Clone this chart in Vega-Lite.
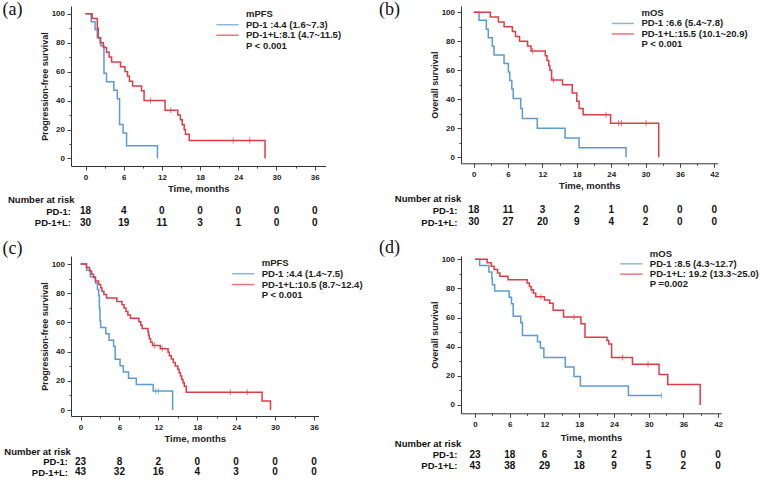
{
  "$schema": "https://vega.github.io/schema/vega-lite/v6.json",
  "padding": {"left": 2, "top": 1, "right": 5, "bottom": 5},
  "background": "white",
  "config": {
    "font": "Liberation Sans",
    "view": {"stroke": null},
    "axis": {"grid": false, "domainColor": "#333", "tickColor": "#444", "labelColor": "#222", "titleColor": "#222", "labelFont": "Liberation Sans", "titleFont": "Liberation Sans", "labelFontSize": 8, "labelFontWeight": "bold", "titleFontWeight": "bold"},
    "legend": {"labelFont": "Liberation Sans"}
  },
  "datasets": {
    "km": [
      {"p":"a","g":"PD-1","t":0,"s":100},{"p":"a","g":"PD-1","t":0.9,"s":94.4},{"p":"a","g":"PD-1","t":1.5,"s":88.9},{"p":"a","g":"PD-1","t":1.85,"s":83.3},{"p":"a","g":"PD-1","t":2.4,"s":77.8},{"p":"a","g":"PD-1","t":2.9,"s":58.8},{"p":"a","g":"PD-1","t":3.3,"s":52.9},{"p":"a","g":"PD-1","t":4.45,"s":47.1},{"p":"a","g":"PD-1","t":5.0,"s":41.2},{"p":"a","g":"PD-1","t":5.35,"s":23.5},{"p":"a","g":"PD-1","t":5.9,"s":17.6},{"p":"a","g":"PD-1","t":6.45,"s":8.8},{"p":"a","g":"PD-1","t":11.3,"s":0},
      {"p":"a","g":"PD-1+L","t":0,"s":100},{"p":"a","g":"PD-1+L","t":1.05,"s":96.7},{"p":"a","g":"PD-1+L","t":1.85,"s":90},{"p":"a","g":"PD-1+L","t":2.0,"s":83.3},{"p":"a","g":"PD-1+L","t":2.3,"s":80},{"p":"a","g":"PD-1+L","t":2.8,"s":76.7},{"p":"a","g":"PD-1+L","t":3.3,"s":73.3},{"p":"a","g":"PD-1+L","t":3.7,"s":70},{"p":"a","g":"PD-1+L","t":4.1,"s":66.7},{"p":"a","g":"PD-1+L","t":5.5,"s":63.3},{"p":"a","g":"PD-1+L","t":6.2,"s":60},{"p":"a","g":"PD-1+L","t":6.6,"s":56.7},{"p":"a","g":"PD-1+L","t":6.9,"s":53.3},{"p":"a","g":"PD-1+L","t":7.4,"s":50},{"p":"a","g":"PD-1+L","t":8.8,"s":46.7},{"p":"a","g":"PD-1+L","t":9.2,"s":40},{"p":"a","g":"PD-1+L","t":12.5,"s":33.3},{"p":"a","g":"PD-1+L","t":14.5,"s":30},{"p":"a","g":"PD-1+L","t":14.9,"s":26.7},{"p":"a","g":"PD-1+L","t":15.2,"s":23.3},{"p":"a","g":"PD-1+L","t":15.5,"s":20},{"p":"a","g":"PD-1+L","t":15.7,"s":16.7},{"p":"a","g":"PD-1+L","t":16.3,"s":12.4},{"p":"a","g":"PD-1+L","t":28.2,"s":0},
      {"p":"b","g":"PD-1","t":0,"s":100},{"p":"b","g":"PD-1","t":0.93,"s":94.4},{"p":"b","g":"PD-1","t":2.2,"s":88.2},{"p":"b","g":"PD-1","t":2.55,"s":82.4},{"p":"b","g":"PD-1","t":3.25,"s":76.5},{"p":"b","g":"PD-1","t":3.55,"s":70.6},{"p":"b","g":"PD-1","t":5.3,"s":64.7},{"p":"b","g":"PD-1","t":6.05,"s":58.8},{"p":"b","g":"PD-1","t":6.3,"s":52.9},{"p":"b","g":"PD-1","t":6.65,"s":47.1},{"p":"b","g":"PD-1","t":6.9,"s":40.5},{"p":"b","g":"PD-1","t":8.2,"s":33.7},{"p":"b","g":"PD-1","t":8.5,"s":26.8},{"p":"b","g":"PD-1","t":11.1,"s":20.1},{"p":"b","g":"PD-1","t":15.95,"s":13.4},{"p":"b","g":"PD-1","t":18.4,"s":6.7},{"p":"b","g":"PD-1","t":26.6,"s":0},
      {"p":"b","g":"PD-1+L","t":0,"s":100},{"p":"b","g":"PD-1+L","t":2.9,"s":96.7},{"p":"b","g":"PD-1+L","t":4.3,"s":93.3},{"p":"b","g":"PD-1+L","t":5.3,"s":90},{"p":"b","g":"PD-1+L","t":6.75,"s":86.7},{"p":"b","g":"PD-1+L","t":7.3,"s":83.3},{"p":"b","g":"PD-1+L","t":8.0,"s":80},{"p":"b","g":"PD-1+L","t":9.4,"s":76.7},{"p":"b","g":"PD-1+L","t":10.0,"s":73.3},{"p":"b","g":"PD-1+L","t":12.5,"s":70},{"p":"b","g":"PD-1+L","t":12.8,"s":66.7},{"p":"b","g":"PD-1+L","t":13.1,"s":63.3},{"p":"b","g":"PD-1+L","t":13.3,"s":60},{"p":"b","g":"PD-1+L","t":13.6,"s":53.3},{"p":"b","g":"PD-1+L","t":15.5,"s":50},{"p":"b","g":"PD-1+L","t":17.2,"s":44.4},{"p":"b","g":"PD-1+L","t":18.0,"s":38.6},{"p":"b","g":"PD-1+L","t":18.4,"s":33.7},{"p":"b","g":"PD-1+L","t":19.1,"s":29.4},{"p":"b","g":"PD-1+L","t":23.9,"s":23.5},{"p":"b","g":"PD-1+L","t":32.3,"s":0},
      {"p":"c","g":"PD-1","t":0,"s":100},{"p":"c","g":"PD-1","t":0.95,"s":95.7},{"p":"c","g":"PD-1","t":1.5,"s":91.3},{"p":"c","g":"PD-1","t":2.3,"s":87},{"p":"c","g":"PD-1","t":2.6,"s":82.6},{"p":"c","g":"PD-1","t":2.8,"s":78.3},{"p":"c","g":"PD-1","t":2.9,"s":69.6},{"p":"c","g":"PD-1","t":3.0,"s":60.9},{"p":"c","g":"PD-1","t":3.1,"s":56.5},{"p":"c","g":"PD-1","t":3.9,"s":52.2},{"p":"c","g":"PD-1","t":4.4,"s":47.8},{"p":"c","g":"PD-1","t":5.1,"s":43.5},{"p":"c","g":"PD-1","t":5.35,"s":34.8},{"p":"c","g":"PD-1","t":6.1,"s":30.4},{"p":"c","g":"PD-1","t":6.6,"s":26.1},{"p":"c","g":"PD-1","t":7.4,"s":21.7},{"p":"c","g":"PD-1","t":8.6,"s":17.4},{"p":"c","g":"PD-1","t":11.2,"s":13},{"p":"c","g":"PD-1","t":14.2,"s":0},
      {"p":"c","g":"PD-1+L","t":0,"s":100},{"p":"c","g":"PD-1+L","t":0.9,"s":97.7},{"p":"c","g":"PD-1+L","t":1.4,"s":95.3},{"p":"c","g":"PD-1+L","t":1.7,"s":93},{"p":"c","g":"PD-1+L","t":2.0,"s":90.7},{"p":"c","g":"PD-1+L","t":2.3,"s":88.4},{"p":"c","g":"PD-1+L","t":2.8,"s":86},{"p":"c","g":"PD-1+L","t":3.1,"s":83.7},{"p":"c","g":"PD-1+L","t":3.3,"s":81.4},{"p":"c","g":"PD-1+L","t":3.6,"s":79.1},{"p":"c","g":"PD-1+L","t":4.0,"s":76.7},{"p":"c","g":"PD-1+L","t":5.6,"s":74.4},{"p":"c","g":"PD-1+L","t":6.4,"s":72.1},{"p":"c","g":"PD-1+L","t":6.7,"s":69.8},{"p":"c","g":"PD-1+L","t":7.0,"s":67.4},{"p":"c","g":"PD-1+L","t":7.3,"s":65.1},{"p":"c","g":"PD-1+L","t":7.7,"s":62.8},{"p":"c","g":"PD-1+L","t":9.0,"s":60.5},{"p":"c","g":"PD-1+L","t":9.3,"s":58.1},{"p":"c","g":"PD-1+L","t":9.5,"s":55.8},{"p":"c","g":"PD-1+L","t":10.4,"s":53.5},{"p":"c","g":"PD-1+L","t":10.5,"s":51.2},{"p":"c","g":"PD-1+L","t":10.6,"s":48.8},{"p":"c","g":"PD-1+L","t":10.8,"s":46.5},{"p":"c","g":"PD-1+L","t":11.1,"s":44.2},{"p":"c","g":"PD-1+L","t":12.3,"s":41.9},{"p":"c","g":"PD-1+L","t":13.5,"s":39.5},{"p":"c","g":"PD-1+L","t":13.7,"s":37.2},{"p":"c","g":"PD-1+L","t":14.0,"s":34.9},{"p":"c","g":"PD-1+L","t":14.3,"s":32.6},{"p":"c","g":"PD-1+L","t":14.6,"s":30.2},{"p":"c","g":"PD-1+L","t":15.0,"s":27.9},{"p":"c","g":"PD-1+L","t":15.2,"s":25.6},{"p":"c","g":"PD-1+L","t":15.4,"s":23.3},{"p":"c","g":"PD-1+L","t":15.6,"s":20.9},{"p":"c","g":"PD-1+L","t":15.8,"s":18.6},{"p":"c","g":"PD-1+L","t":16.0,"s":16.3},{"p":"c","g":"PD-1+L","t":16.3,"s":12.1},{"p":"c","g":"PD-1+L","t":28.0,"s":6.1},{"p":"c","g":"PD-1+L","t":29.3,"s":0},
      {"p":"d","g":"PD-1","t":0,"s":100},{"p":"d","g":"PD-1","t":0.8,"s":95.7},{"p":"d","g":"PD-1","t":2.4,"s":91.3},{"p":"d","g":"PD-1","t":2.9,"s":87},{"p":"d","g":"PD-1","t":3.0,"s":82.6},{"p":"d","g":"PD-1","t":3.4,"s":78.3},{"p":"d","g":"PD-1","t":5.9,"s":73.9},{"p":"d","g":"PD-1","t":6.3,"s":69.6},{"p":"d","g":"PD-1","t":6.6,"s":60.9},{"p":"d","g":"PD-1","t":7.9,"s":56.5},{"p":"d","g":"PD-1","t":8.2,"s":47.8},{"p":"d","g":"PD-1","t":10.8,"s":43.5},{"p":"d","g":"PD-1","t":11.3,"s":39.1},{"p":"d","g":"PD-1","t":11.9,"s":32.6},{"p":"d","g":"PD-1","t":15.6,"s":26.1},{"p":"d","g":"PD-1","t":17.1,"s":19.6},{"p":"d","g":"PD-1","t":18.2,"s":13},{"p":"d","g":"PD-1","t":26.5,"s":6.5},{"p":"d","g":"PD-1","t":32.2,"s":6.5},
      {"p":"d","g":"PD-1+L","t":0,"s":100},{"p":"d","g":"PD-1+L","t":2.1,"s":97.7},{"p":"d","g":"PD-1+L","t":2.8,"s":95.3},{"p":"d","g":"PD-1+L","t":3.3,"s":93},{"p":"d","g":"PD-1+L","t":3.9,"s":90.7},{"p":"d","g":"PD-1+L","t":4.3,"s":88.4},{"p":"d","g":"PD-1+L","t":5.7,"s":86},{"p":"d","g":"PD-1+L","t":9.0,"s":83.7},{"p":"d","g":"PD-1+L","t":9.4,"s":81.4},{"p":"d","g":"PD-1+L","t":9.7,"s":79.1},{"p":"d","g":"PD-1+L","t":10.1,"s":76.7},{"p":"d","g":"PD-1+L","t":10.5,"s":74.4},{"p":"d","g":"PD-1+L","t":12.0,"s":72.1},{"p":"d","g":"PD-1+L","t":12.9,"s":69.8},{"p":"d","g":"PD-1+L","t":13.5,"s":65.1},{"p":"d","g":"PD-1+L","t":15.3,"s":60.5},{"p":"d","g":"PD-1+L","t":18.3,"s":55.8},{"p":"d","g":"PD-1+L","t":19.0,"s":46.5},{"p":"d","g":"PD-1+L","t":22.8,"s":44.2},{"p":"d","g":"PD-1+L","t":23.1,"s":41.9},{"p":"d","g":"PD-1+L","t":23.6,"s":32.6},{"p":"d","g":"PD-1+L","t":27.2,"s":27.9},{"p":"d","g":"PD-1+L","t":31.8,"s":20.9},{"p":"d","g":"PD-1+L","t":33.3,"s":14},{"p":"d","g":"PD-1+L","t":38.9,"s":0}
    ],
    "cens": [
      {"p":"a","g":"PD-1+L","t":10.2,"s":40},{"p":"a","g":"PD-1+L","t":13.4,"s":33.3},{"p":"a","g":"PD-1+L","t":23.2,"s":12.4},{"p":"a","g":"PD-1+L","t":25.8,"s":12.4},
      {"p":"b","g":"PD-1+L","t":10.3,"s":73.3},{"p":"b","g":"PD-1+L","t":13.9,"s":53.3},{"p":"b","g":"PD-1+L","t":23.1,"s":29.4},{"p":"b","g":"PD-1+L","t":25.3,"s":23.5},{"p":"b","g":"PD-1+L","t":25.8,"s":23.5},{"p":"b","g":"PD-1+L","t":30.1,"s":23.5},
      {"p":"c","g":"PD-1","t":11.6,"s":13},{"p":"c","g":"PD-1","t":12.0,"s":13},{"p":"c","g":"PD-1+L","t":11.4,"s":44.2},{"p":"c","g":"PD-1+L","t":12.6,"s":41.9},{"p":"c","g":"PD-1+L","t":23.1,"s":12.1},{"p":"c","g":"PD-1+L","t":25.7,"s":12.1},
      {"p":"d","g":"PD-1","t":32.2,"s":6.5},{"p":"d","g":"PD-1+L","t":9.8,"s":79.1},{"p":"d","g":"PD-1+L","t":11.4,"s":74.4},{"p":"d","g":"PD-1+L","t":17.1,"s":60.5},{"p":"d","g":"PD-1+L","t":25.5,"s":32.6},{"p":"d","g":"PD-1+L","t":29.9,"s":27.9}
    ],
    "risk": [
      {"p":"a","r":"PD-1:","t":0,"n":18},{"p":"a","r":"PD-1:","t":6,"n":4},{"p":"a","r":"PD-1:","t":12,"n":0},{"p":"a","r":"PD-1:","t":18,"n":0},{"p":"a","r":"PD-1:","t":24,"n":0},{"p":"a","r":"PD-1:","t":30,"n":0},{"p":"a","r":"PD-1:","t":36,"n":0},
      {"p":"a","r":"PD-1+L:","t":0,"n":30},{"p":"a","r":"PD-1+L:","t":6,"n":19},{"p":"a","r":"PD-1+L:","t":12,"n":11},{"p":"a","r":"PD-1+L:","t":18,"n":3},{"p":"a","r":"PD-1+L:","t":24,"n":1},{"p":"a","r":"PD-1+L:","t":30,"n":0},{"p":"a","r":"PD-1+L:","t":36,"n":0},
      {"p":"b","r":"PD-1:","t":0,"n":18},{"p":"b","r":"PD-1:","t":6,"n":11},{"p":"b","r":"PD-1:","t":12,"n":3},{"p":"b","r":"PD-1:","t":18,"n":2},{"p":"b","r":"PD-1:","t":24,"n":1},{"p":"b","r":"PD-1:","t":30,"n":0},{"p":"b","r":"PD-1:","t":36,"n":0},{"p":"b","r":"PD-1:","t":42,"n":0},
      {"p":"b","r":"PD-1+L:","t":0,"n":30},{"p":"b","r":"PD-1+L:","t":6,"n":27},{"p":"b","r":"PD-1+L:","t":12,"n":20},{"p":"b","r":"PD-1+L:","t":18,"n":9},{"p":"b","r":"PD-1+L:","t":24,"n":4},{"p":"b","r":"PD-1+L:","t":30,"n":2},{"p":"b","r":"PD-1+L:","t":36,"n":0},{"p":"b","r":"PD-1+L:","t":42,"n":0},
      {"p":"c","r":"PD-1:","t":0,"n":23},{"p":"c","r":"PD-1:","t":6,"n":8},{"p":"c","r":"PD-1:","t":12,"n":2},{"p":"c","r":"PD-1:","t":18,"n":0},{"p":"c","r":"PD-1:","t":24,"n":0},{"p":"c","r":"PD-1:","t":30,"n":0},{"p":"c","r":"PD-1:","t":36,"n":0},
      {"p":"c","r":"PD-1+L:","t":0,"n":43},{"p":"c","r":"PD-1+L:","t":6,"n":32},{"p":"c","r":"PD-1+L:","t":12,"n":16},{"p":"c","r":"PD-1+L:","t":18,"n":4},{"p":"c","r":"PD-1+L:","t":24,"n":3},{"p":"c","r":"PD-1+L:","t":30,"n":0},{"p":"c","r":"PD-1+L:","t":36,"n":0},
      {"p":"d","r":"PD-1:","t":0,"n":23},{"p":"d","r":"PD-1:","t":6,"n":18},{"p":"d","r":"PD-1:","t":12,"n":6},{"p":"d","r":"PD-1:","t":18,"n":3},{"p":"d","r":"PD-1:","t":24,"n":2},{"p":"d","r":"PD-1:","t":30,"n":1},{"p":"d","r":"PD-1:","t":36,"n":0},{"p":"d","r":"PD-1:","t":42,"n":0},
      {"p":"d","r":"PD-1+L:","t":0,"n":43},{"p":"d","r":"PD-1+L:","t":6,"n":38},{"p":"d","r":"PD-1+L:","t":12,"n":29},{"p":"d","r":"PD-1+L:","t":18,"n":18},{"p":"d","r":"PD-1+L:","t":24,"n":9},{"p":"d","r":"PD-1+L:","t":30,"n":5},{"p":"d","r":"PD-1+L:","t":36,"n":2},{"p":"d","r":"PD-1+L:","t":42,"n":0}
    ]
  },
  "columns": 2,
  "spacing": {"row": 4, "column": 135},
  "bounds": "flush",
  "resolve": {"scale": {"color": "independent"}, "legend": {"color": "independent"}},
  "concat": [
    {
      "width": 254.5, "height": 160,
      "title": {"text": "(a)", "anchor": "start", "frame": "group", "dx": -68.5, "offset": -13, "baseline": "top", "font": "Liberation Serif", "fontSize": 18, "fontWeight": "normal", "color": "#111"},
      "layer": [
        {
          "data": {"name": "km"}, "transform": [{"filter": "datum.p === 'a'"}],
          "mark": {"type": "line", "interpolate": "step-after", "strokeWidth": 1.5},
          "encoding": {
            "x": {"field": "t", "type": "quantitative", "scale": {"domain": [-2.28, 37.7], "nice": false, "zero": false},
              "axis": {"values": [0,3,6,9,12,15,18,21,24,27,30,33,36], "tickCount": 100, "format": "d", "labelExpr": "datum.value % 6 === 0 ? datum.label : ''", "tickSize": {"condition": {"test": "datum.value % 6 !== 0", "value": 2}, "value": 4}, "labelPadding": 3, "labelFlush": false, "labelOverlap": false, "title": "Time, months", "titleFontSize": 9.5, "titlePadding": 2}},
            "y": {"field": "s", "type": "quantitative", "scale": {"domain": [-5.2, 105.3], "nice": false, "zero": false},
              "axis": {"values": [0,10,20,30,40,50,60,70,80,90,100], "tickCount": 100, "format": "d", "labelExpr": "datum.value % 20 === 0 ? datum.label : ''", "tickSize": {"condition": {"test": "datum.value % 20 !== 0", "value": 2}, "value": 4}, "labelPadding": 2.5, "labelOverlap": false, "title": "Progression-free survival", "titleFontSize": 9, "titlePadding": 2}},
            "color": {"field": "g", "type": "nominal", "scale": {"domain": ["hdr","PD-1","PD-1+L","p"], "range": ["transparent","#5B9BD5","#E03C46","transparent"]},
              "legend": {"orient": "none", "legendX": 151, "legendY": 2.75, "title": null, "padding": 0, "symbolType": "M-2.45,0H2.45", "symbolSize": 81, "symbolStrokeWidth": 1.5, "labelOffset": 13, "labelFontSize": 9.5, "labelFontWeight": "bold", "labelColor": "#222", "labelLimit": 300, "rowPadding": 0.5,
                "labelExpr": "datum.value === 'hdr' ? 'mPFS' : datum.value === 'PD-1' ? 'PD-1 :4.4 (1.6~7.3)' : datum.value === 'PD-1+L' ? 'PD-1+L:8.1 (4.7~11.5)' : 'P < 0.001'"}}
          }
        },
        {
          "data": {"name": "cens"}, "transform": [{"filter": "datum.p === 'a'"}],
          "mark": {"type": "tick", "orient": "vertical", "size": 6, "thickness": 1},
          "encoding": {"x": {"field": "t", "type": "quantitative"}, "y": {"field": "s", "type": "quantitative"}, "color": {"field": "g", "type": "nominal"}}
        }
      ]
    },
    {
      "width": 256.7, "height": 157.3,
      "title": {"text": "(b)", "anchor": "start", "frame": "group", "dx": -82, "offset": -13, "baseline": "top", "font": "Liberation Serif", "fontSize": 18, "fontWeight": "normal", "color": "#111"},
      "layer": [
        {
          "data": {"name": "km"}, "transform": [{"filter": "datum.p === 'b'"}],
          "mark": {"type": "line", "interpolate": "step-after", "strokeWidth": 1.5},
          "encoding": {
            "x": {"field": "t", "type": "quantitative", "scale": {"domain": [-2.22, 42.6], "nice": false, "zero": false},
              "axis": {"values": [0,3,6,9,12,15,18,21,24,27,30,33,36,39,42], "tickCount": 100, "format": "d", "labelExpr": "datum.value % 6 === 0 ? datum.label : ''", "tickSize": {"condition": {"test": "datum.value % 6 !== 0", "value": 2}, "value": 4}, "labelPadding": 3, "labelFlush": false, "labelOverlap": false, "title": "Time, months", "titleFontSize": 9.5, "titlePadding": 2}},
            "y": {"field": "s", "type": "quantitative", "scale": {"domain": [-4.1, 104.3], "nice": false, "zero": false},
              "axis": {"values": [0,10,20,30,40,50,60,70,80,90,100], "tickCount": 100, "format": "d", "labelExpr": "datum.value % 20 === 0 ? datum.label : ''", "tickSize": {"condition": {"test": "datum.value % 20 !== 0", "value": 2}, "value": 4}, "labelPadding": 2.5, "labelOverlap": false, "title": "Overall survival", "titleFontSize": 9, "titlePadding": 2}},
            "color": {"field": "g", "type": "nominal", "scale": {"domain": ["hdr","PD-1","PD-1+L","p"], "range": ["transparent","#5B9BD5","#E03C46","transparent"]},
              "legend": {"orient": "none", "legendX": 156.5, "legendY": 1.45, "title": null, "padding": 0, "symbolType": "M-2.45,0H2.45", "symbolSize": 81, "symbolStrokeWidth": 1.5, "labelOffset": 13, "labelFontSize": 9.5, "labelFontWeight": "bold", "labelColor": "#222", "labelLimit": 300, "rowPadding": 0.5,
                "labelExpr": "datum.value === 'hdr' ? 'mOS' : datum.value === 'PD-1' ? 'PD-1 :6.6 (5.4~7.8)' : datum.value === 'PD-1+L' ? 'PD-1+L:15.5 (10.1~20.9)' : 'P < 0.001'"}}
          }
        },
        {
          "data": {"name": "cens"}, "transform": [{"filter": "datum.p === 'b'"}],
          "mark": {"type": "tick", "orient": "vertical", "size": 6, "thickness": 1},
          "encoding": {"x": {"field": "t", "type": "quantitative"}, "y": {"field": "s", "type": "quantitative"}, "color": {"field": "g", "type": "nominal"}}
        }
      ]
    },
    {
      "width": 254.5, "height": 82,
      "data": {"name": "risk"}, "transform": [{"filter": "datum.p === 'a'"}],
      "mark": {"type": "text", "fontSize": 10, "fontWeight": "bold", "color": "#111"},
      "encoding": {
        "x": {"field": "t", "type": "quantitative", "scale": {"domain": [-2.28, 37.7], "nice": false, "zero": false}, "axis": null},
        "y": {"field": "r", "type": "nominal", "scale": {"type": "point", "padding": 0, "domain": ["Number at risk","PD-1:","PD-1+L:"], "range": [29.5, 52.5]},
          "axis": {"title": null, "domain": false, "ticks": false, "labelFontSize": 9.5, "labelFontWeight": "bold", "labelColor": "#111",
            "labelPadding": {"condition": {"test": "datum.value === 'Number at risk'", "value": 63.5}, "value": 0.5},
            "labelAlign": {"condition": {"test": "datum.value === 'Number at risk'", "value": "left"}, "value": "right"}}},
        "text": {"field": "n", "type": "quantitative"}
      }
    },
    {
      "width": 256.7, "height": 82,
      "data": {"name": "risk"}, "transform": [{"filter": "datum.p === 'b'"}],
      "mark": {"type": "text", "fontSize": 10, "fontWeight": "bold", "color": "#111"},
      "encoding": {
        "x": {"field": "t", "type": "quantitative", "scale": {"domain": [-2.22, 42.6], "nice": false, "zero": false}, "axis": null},
        "y": {"field": "r", "type": "nominal", "scale": {"type": "point", "padding": 0, "domain": ["Number at risk","PD-1:","PD-1+L:"], "range": [28.5, 52.3]},
          "axis": {"title": null, "domain": false, "ticks": false, "labelFontSize": 9.5, "labelFontWeight": "bold", "labelColor": "#111",
            "labelPadding": {"condition": {"test": "datum.value === 'Number at risk'", "value": 66.7}, "value": 4},
            "labelAlign": {"condition": {"test": "datum.value === 'Number at risk'", "value": "left"}, "value": "right"}}},
        "text": {"field": "n", "type": "quantitative"}
      }
    },
    {
      "width": 247.5, "height": 160,
      "title": {"text": "(c)", "anchor": "start", "frame": "group", "dx": -68.5, "offset": -2.3, "baseline": "top", "font": "Liberation Serif", "fontSize": 18, "fontWeight": "normal", "color": "#111"},
      "layer": [
        {
          "data": {"name": "km"}, "transform": [{"filter": "datum.p === 'c'"}],
          "mark": {"type": "line", "interpolate": "step-after", "strokeWidth": 1.5},
          "encoding": {
            "x": {"field": "t", "type": "quantitative", "scale": {"domain": [-1.47, 36.7], "nice": false, "zero": false},
              "axis": {"values": [0,3,6,9,12,15,18,21,24,27,30,33,36], "tickCount": 100, "format": "d", "labelExpr": "datum.value % 6 === 0 ? datum.label : ''", "tickSize": {"condition": {"test": "datum.value % 6 !== 0", "value": 2}, "value": 4}, "labelPadding": 3, "labelFlush": false, "labelOverlap": false, "title": "Time, months", "titleFontSize": 9.5, "titlePadding": 2}},
            "y": {"field": "s", "type": "quantitative", "scale": {"domain": [-4.1, 105.5], "nice": false, "zero": false},
              "axis": {"values": [0,10,20,30,40,50,60,70,80,90,100], "tickCount": 100, "format": "d", "labelExpr": "datum.value % 20 === 0 ? datum.label : ''", "tickSize": {"condition": {"test": "datum.value % 20 !== 0", "value": 2}, "value": 4}, "labelPadding": 2.5, "labelOverlap": false, "title": "Progression-free survival", "titleFontSize": 9, "titlePadding": 2}},
            "color": {"field": "g", "type": "nominal", "scale": {"domain": ["hdr","PD-1","PD-1+L","p"], "range": ["transparent","#5B9BD5","#E03C46","transparent"]},
              "legend": {"orient": "none", "legendX": 166.7, "legendY": 1.45, "title": null, "padding": 0, "symbolType": "M-2.45,0H2.45", "symbolSize": 81, "symbolStrokeWidth": 1.5, "labelOffset": 13, "labelFontSize": 9.5, "labelFontWeight": "bold", "labelColor": "#222", "labelLimit": 300, "rowPadding": 0.8,
                "labelExpr": "datum.value === 'hdr' ? 'mPFS' : datum.value === 'PD-1' ? 'PD-1 :4.4 (1.4~7.5)' : datum.value === 'PD-1+L' ? 'PD-1+L:10.5 (8.7~12.4)' : 'P < 0.001'"}}
          }
        },
        {
          "data": {"name": "cens"}, "transform": [{"filter": "datum.p === 'c'"}],
          "mark": {"type": "tick", "orient": "vertical", "size": 6, "thickness": 1},
          "encoding": {"x": {"field": "t", "type": "quantitative"}, "y": {"field": "s", "type": "quantitative"}, "color": {"field": "g", "type": "nominal"}}
        }
      ]
    },
    {
      "width": 260, "height": 157.3,
      "title": {"text": "(d)", "anchor": "start", "frame": "group", "dx": -82, "offset": -8.65, "baseline": "top", "font": "Liberation Serif", "fontSize": 18, "fontWeight": "normal", "color": "#111"},
      "layer": [
        {
          "data": {"name": "km"}, "transform": [{"filter": "datum.p === 'd'"}],
          "mark": {"type": "line", "interpolate": "step-after", "strokeWidth": 1.5},
          "encoding": {
            "x": {"field": "t", "type": "quantitative", "scale": {"domain": [-2.42, 42.5], "nice": false, "zero": false},
              "axis": {"values": [0,3,6,9,12,15,18,21,24,27,30,33,36,39,42], "tickCount": 100, "format": "d", "labelExpr": "datum.value % 6 === 0 ? datum.label : ''", "tickSize": {"condition": {"test": "datum.value % 6 !== 0", "value": 2}, "value": 4}, "labelPadding": 3, "labelFlush": false, "labelOverlap": false, "title": "Time, months", "titleFontSize": 9.5, "titlePadding": 4}},
            "y": {"field": "s", "type": "quantitative", "scale": {"domain": [-5.7, 102.3], "nice": false, "zero": false},
              "axis": {"values": [0,10,20,30,40,50,60,70,80,90,100], "tickCount": 100, "format": "d", "labelExpr": "datum.value % 20 === 0 ? datum.label : ''", "tickSize": {"condition": {"test": "datum.value % 20 !== 0", "value": 2}, "value": 4}, "labelPadding": 2.5, "labelOverlap": false, "title": "Overall survival", "titleFontSize": 9, "titlePadding": 2}},
            "color": {"field": "g", "type": "nominal", "scale": {"domain": ["hdr","PD-1","PD-1+L","p"], "range": ["transparent","#5B9BD5","#E03C46","transparent"]},
              "legend": {"orient": "none", "legendX": 164.8, "legendY": -7.95, "title": null, "padding": 0, "symbolType": "M-2.45,0H2.45", "symbolSize": 81, "symbolStrokeWidth": 1.5, "labelOffset": 13, "labelFontSize": 9.5, "labelFontWeight": "bold", "labelColor": "#222", "labelLimit": 300, "rowPadding": 0.3,
                "labelExpr": "datum.value === 'hdr' ? 'mOS' : datum.value === 'PD-1' ? 'PD-1 :8.5 (4.3~12.7)' : datum.value === 'PD-1+L' ? 'PD-1+L: 19.2 (13.3~25.0)' : 'P =0.002'"}}
          }
        },
        {
          "data": {"name": "cens"}, "transform": [{"filter": "datum.p === 'd'"}],
          "mark": {"type": "tick", "orient": "vertical", "size": 6, "thickness": 1},
          "encoding": {"x": {"field": "t", "type": "quantitative"}, "y": {"field": "s", "type": "quantitative"}, "color": {"field": "g", "type": "nominal"}}
        }
      ]
    },
    {
      "width": 247.5, "height": 55,
      "data": {"name": "risk"}, "transform": [{"filter": "datum.p === 'c'"}],
      "mark": {"type": "text", "fontSize": 10, "fontWeight": "bold", "color": "#111"},
      "encoding": {
        "x": {"field": "t", "type": "quantitative", "scale": {"domain": [-1.47, 36.7], "nice": false, "zero": false}, "axis": null},
        "y": {"field": "r", "type": "nominal", "scale": {"type": "point", "padding": 0, "domain": ["Number at risk","PD-1:","PD-1+L:"], "range": [31, 52.3]},
          "axis": {"title": null, "domain": false, "ticks": false, "labelFontSize": 9.5, "labelFontWeight": "bold", "labelColor": "#111",
            "labelPadding": {"condition": {"test": "datum.value === 'Number at risk'", "value": 67.2}, "value": 3.5},
            "labelAlign": {"condition": {"test": "datum.value === 'Number at risk'", "value": "left"}, "value": "right"}}},
        "text": {"field": "n", "type": "quantitative"}
      }
    },
    {
      "width": 260, "height": 55,
      "data": {"name": "risk"}, "transform": [{"filter": "datum.p === 'd'"}],
      "mark": {"type": "text", "fontSize": 10, "fontWeight": "bold", "color": "#111"},
      "encoding": {
        "x": {"field": "t", "type": "quantitative", "scale": {"domain": [-2.42, 42.5], "nice": false, "zero": false}, "axis": null},
        "y": {"field": "r", "type": "nominal", "scale": {"type": "point", "padding": 0, "domain": ["Number at risk","PD-1:","PD-1+L:"], "range": [23.3, 45.7]},
          "axis": {"title": null, "domain": false, "ticks": false, "labelFontSize": 9.5, "labelFontWeight": "bold", "labelColor": "#111",
            "labelPadding": {"condition": {"test": "datum.value === 'Number at risk'", "value": 66.7}, "value": 4},
            "labelAlign": {"condition": {"test": "datum.value === 'Number at risk'", "value": "left"}, "value": "right"}}},
        "text": {"field": "n", "type": "quantitative"}
      }
    }
  ]
}
